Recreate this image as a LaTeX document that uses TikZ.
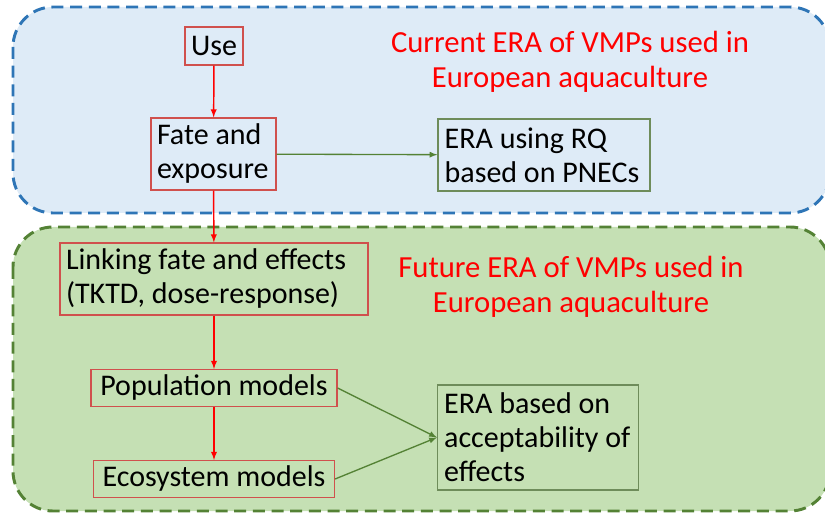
\documentclass[tikz,border=0pt]{standalone}
\usepackage{fontspec}
\setmainfont{Carlito}
\tikzset{>=latex}
\definecolor{bluefill}{HTML}{DEEBF7}
\definecolor{blueline}{HTML}{2E75B6}
\definecolor{greenfill}{HTML}{C5E0B4}
\definecolor{greenline}{HTML}{548235}
\definecolor{boxred}{HTML}{D0504D}
\definecolor{eraline}{HTML}{6E8C5A}
\tikzset{
  big/.style={font=\fontsize{22.5}{25.5}\selectfont},
  title/.style={font=\fontsize{23}{26.25}\selectfont, red, align=center},
  flowbox/.style={big, draw=boxred, line width=0.9pt, inner xsep=4.5pt, inner ysep=0pt, align=flush left},
  erabox/.style={big, draw=eraline, line width=0.9pt, inner xsep=5pt, inner ysep=0pt, align=flush left},
  flow/.style={->, red, line width=1.1pt},
  feed/.style={->, greenline, line width=1pt},
}

\begin{document}
\begin{tikzpicture}[x=0.75pt, y=-0.75pt]
    \useasboundingbox(0, 0)rectangle(825, 513);
    % the two stages
    \draw[fill=bluefill, draw=blueline, line width=2.2pt, dash pattern=on 9pt off 5pt, rounded corners=30pt](13, 7)rectangle(830, 213);
    \draw[fill=greenfill, draw=greenline, line width=2.2pt, dash pattern=on 9pt off 5pt, rounded corners=30pt](13, 227)rectangle(830, 511);
    \node[title](curtitle) at(570, 62){Current ERA of VMPs used in\\European aquaculture};
    \node[title](futtitle) at(571, 287){Future ERA of VMPs used in\\European aquaculture};

    \node[flowbox, align=center, minimum width=43.5pt, minimum height=28.5pt](use) at(214, 46){Use};
    \node[flowbox, text width=84.75pt, minimum height=54pt](fate) at(213.5, 154){Fate and\\exposure};
    \node[erabox, text width=149pt, minimum height=54pt](rq) at(544, 155){ERA using RQ\\based on PNECs};
    \node[flowbox, text width=222pt, minimum height=54pt](link) at(214, 279){Linking fate and effects\\(TKTD, dose-response)};
    \node[flowbox, align=center, minimum width=184.5pt, minimum height=27.75pt](pop) at(214, 388){Population models};
    \node[flowbox, align=center, minimum width=180.75pt, minimum height=27.75pt](eco) at(214, 479){Ecosystem models};
    \node[erabox, text width=140.75pt, minimum height=78.75pt](accept) at(538, 437.5){ERA based on\\acceptability of\\effects};

    \draw[flow](use)--(fate);
    \draw[flow](fate)--(link);
    \draw[flow](link)--(pop);
    \draw[flow](pop)--(eco);
    \draw[feed](fate)--(rq);
    \draw[feed](pop.east)--(accept.west);
    \draw[feed](eco.east)--(accept.west);
\end{tikzpicture}
\end{document}
